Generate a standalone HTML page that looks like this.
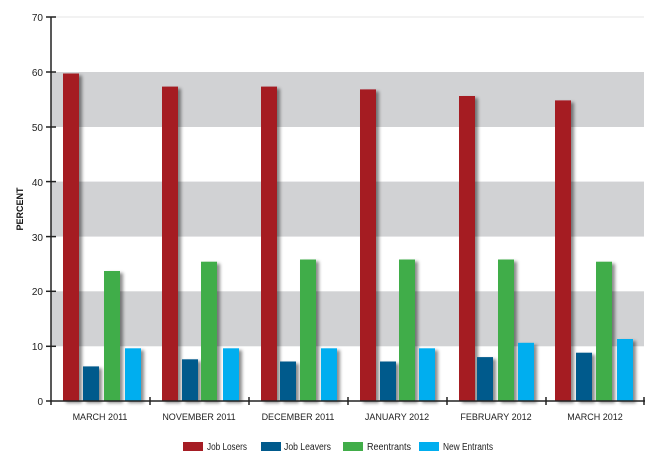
<!DOCTYPE html>
<html><head><style>body{margin:0;background:#fff}svg{display:block}</style></head><body>
<svg width="660" height="463" xmlns="http://www.w3.org/2000/svg" font-family="Liberation Sans, sans-serif">
<defs><filter id="s" x="-30%" y="-10%" width="170%" height="130%"><feDropShadow dx="3" dy="2" stdDeviation="1.5" flood-color="#000" flood-opacity="0.45"/></filter></defs>
<rect x="51" y="17" width="593" height="384" fill="#fff"/>
<line x1="51" y1="17" x2="644" y2="17" stroke="#eee" stroke-width="1.5"/>
<rect x="51" y="72" width="593" height="55" fill="#d1d2d4"/>
<rect x="51" y="181.6" width="593" height="55" fill="#d1d2d4"/>
<rect x="51" y="291.3" width="593" height="55" fill="#d1d2d4"/>
<line x1="645" y1="18" x2="645" y2="402" stroke="#555" stroke-width="2.5" filter="url(#s)"/>
<g filter="url(#s)">
<g fill="#a51d24">
<rect x="63" y="73.5" width="16" height="327.5"/><rect x="162" y="86.6" width="16" height="314.4"/><rect x="261" y="86.6" width="16" height="314.4"/><rect x="360" y="89.4" width="16" height="311.6"/><rect x="459" y="96" width="16" height="305"/><rect x="555" y="100.4" width="16" height="300.6"/>
</g>
<g fill="#005a8c">
<rect x="83" y="366.4" width="16" height="34.6"/><rect x="182" y="359.3" width="16" height="41.7"/><rect x="280" y="361.5" width="16" height="39.5"/><rect x="380" y="361.5" width="16" height="39.5"/><rect x="477" y="357.1" width="16" height="43.9"/><rect x="576" y="352.7" width="16" height="48.3"/>
</g>
<g fill="#41ad49">
<rect x="104" y="271" width="16" height="130"/><rect x="201" y="261.7" width="16" height="139.3"/><rect x="300" y="259.5" width="16" height="141.5"/><rect x="399" y="259.5" width="16" height="141.5"/><rect x="498" y="259.5" width="16" height="141.5"/><rect x="596" y="261.7" width="16" height="139.3"/>
</g>
<g fill="#00aeef">
<rect x="125" y="348.3" width="16" height="52.7"/><rect x="223" y="348.3" width="16" height="52.7"/><rect x="321" y="348.3" width="16" height="52.7"/><rect x="419" y="348.3" width="16" height="52.7"/><rect x="518" y="342.8" width="16" height="58.2"/><rect x="617" y="339" width="16" height="62"/>
</g>
</g>
<g stroke="#222" stroke-width="1.5">
<line x1="51" y1="17" x2="51" y2="405"/>
<line x1="51" y1="401" x2="645" y2="401"/>
<line x1="46" y1="17" x2="56" y2="17"/><line x1="46" y1="72" x2="56" y2="72"/><line x1="46" y1="127" x2="56" y2="127"/><line x1="46" y1="181.6" x2="56" y2="181.6"/><line x1="46" y1="236.6" x2="56" y2="236.6"/><line x1="46" y1="291.3" x2="56" y2="291.3"/><line x1="46" y1="346.3" x2="56" y2="346.3"/><line x1="46" y1="401" x2="51" y2="401"/>
<line x1="150" y1="397" x2="150" y2="405"/><line x1="249" y1="397" x2="249" y2="405"/><line x1="348" y1="397" x2="348" y2="405"/><line x1="447" y1="397" x2="447" y2="405"/><line x1="546" y1="397" x2="546" y2="405"/><line x1="644" y1="397" x2="644" y2="405"/>
</g>
<g font-size="10" fill="#222" text-anchor="end">
<text x="43" y="21">70</text><text x="43" y="76">60</text><text x="43" y="131">50</text><text x="43" y="186">40</text><text x="43" y="241">30</text><text x="43" y="295">20</text><text x="43" y="350">10</text><text x="43" y="405">0</text>
</g>
<text transform="translate(23,209) rotate(-90)" font-size="9" font-weight="bold" text-anchor="middle" fill="#111">PERCENT</text>
<g font-size="9" fill="#222" text-anchor="middle">
<text x="100" y="420">MARCH 2011</text><text x="199" y="420">NOVEMBER 2011</text><text x="298" y="420">DECEMBER 2011</text><text x="397" y="420">JANUARY 2012</text><text x="496" y="420">FEBRUARY 2012</text><text x="595" y="420">MARCH 2012</text>
</g>
<g font-size="10" fill="#222">
<rect x="183" y="442" width="20" height="9" fill="#a51d24"/><text x="207" y="450" textLength="40" lengthAdjust="spacingAndGlyphs">Job Losers</text>
<rect x="261" y="442" width="20" height="9" fill="#005a8c"/><text x="284" y="450" textLength="47" lengthAdjust="spacingAndGlyphs">Job Leavers</text>
<rect x="343" y="442" width="20" height="9" fill="#41ad49"/><text x="367" y="450" textLength="44" lengthAdjust="spacingAndGlyphs">Reentrants</text>
<rect x="419" y="442" width="20" height="9" fill="#00aeef"/><text x="443" y="450" textLength="50" lengthAdjust="spacingAndGlyphs">New Entrants</text>
</g>
</svg>
</body></html>
